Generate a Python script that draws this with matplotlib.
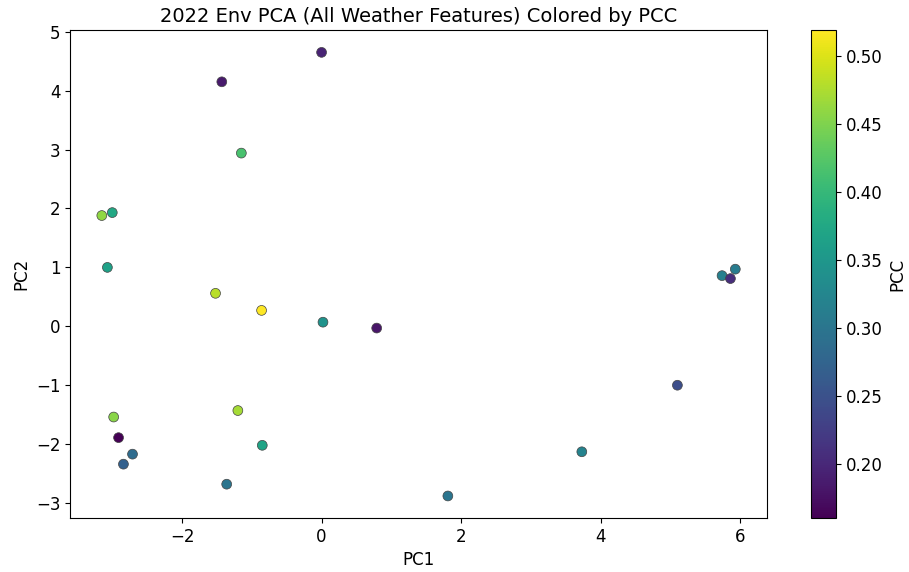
import numpy as np
import matplotlib
matplotlib.use('Agg')
import matplotlib.pyplot as plt

# PCA coordinates and PCC per environment
pc1 = [0.00, -1.43, -1.15, -3.15, -3.00, -3.07, -1.52, -0.86, 0.02, 0.79,
       5.74, 5.86, 5.93, 5.10, 3.73, 1.81, -1.20, -0.85, -1.36, -2.98,
       -2.91, -2.71, -2.84]
pc2 = [4.65, 4.15, 2.94, 1.88, 1.93, 1.00, 0.56, 0.27, 0.07, -0.03,
       0.86, 0.81, 0.97, -1.00, -2.13, -2.88, -1.43, -2.02, -2.68, -1.54,
       -1.89, -2.17, -2.34]
pcc = [0.195, 0.185, 0.415, 0.460, 0.375, 0.365, 0.480, 0.519, 0.345, 0.180,
       0.315, 0.205, 0.310, 0.245, 0.320, 0.300, 0.470, 0.370, 0.300, 0.455,
       0.160, 0.285, 0.270]

fig = plt.figure(figsize=(9.09, 5.72), dpi=100)
ax = fig.add_axes([0.077, 0.0944, 0.767, 0.8532])
cax = fig.add_axes([0.892, 0.0944, 0.0275, 0.8532])

sc = ax.scatter(pc1, pc2, c=pcc, cmap='viridis', s=50,
                edgecolors='#444444', linewidths=0.5)
cb = fig.colorbar(sc, cax=cax)
cb.set_label('PCC', fontsize=12)
cb.ax.tick_params(labelsize=12)

ax.set_xlim(-3.606, 6.387)
ax.set_ylim(-3.254, 5.03)
ax.set_xticks([-2, 0, 2, 4, 6])
ax.tick_params(labelsize=12)
ax.set_xlabel('PC1', fontsize=12)
ax.set_ylabel('PC2', fontsize=12)
ax.set_title('2022 Env PCA (All Weather Features) Colored by PCC', fontsize=14)

plt.savefig('out.png', dpi=100)
